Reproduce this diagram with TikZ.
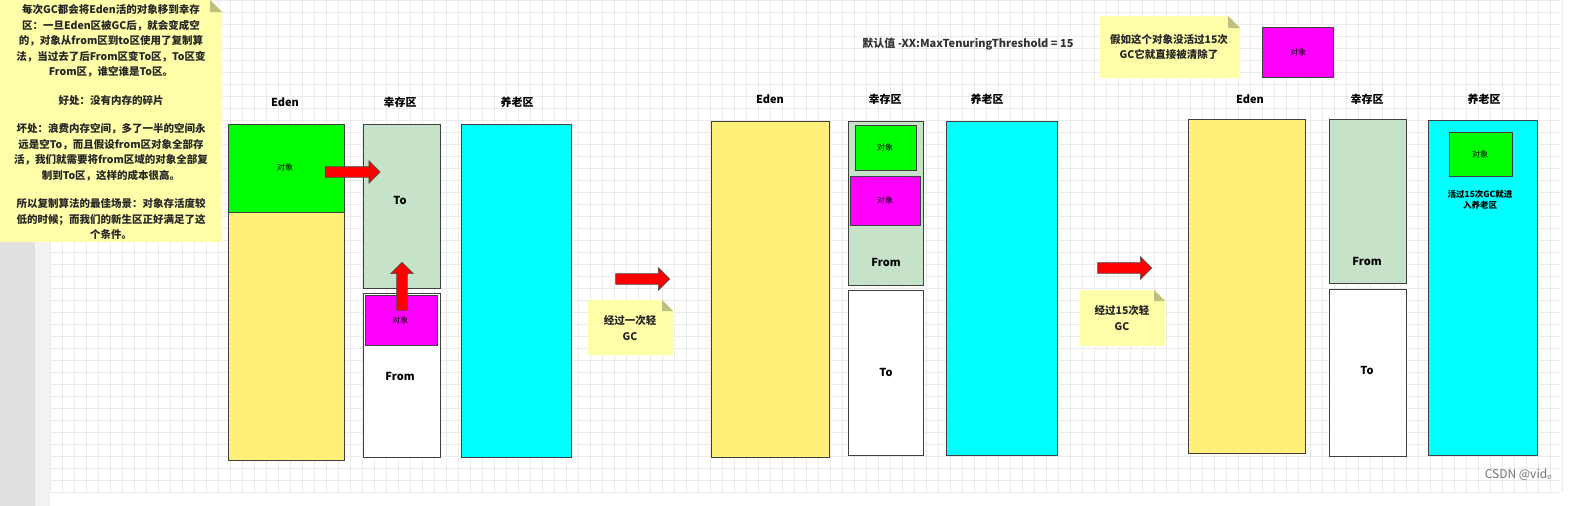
\documentclass[tikz,border=0pt]{standalone}
\usepackage{fontspec}
\setmainfont{Noto Sans CJK SC}
\usetikzlibrary{shapes.arrows}
\definecolor{notey}{HTML}{FFFFAA}
\definecolor{edeny}{HTML}{FFF07A}
\definecolor{surv}{HTML}{C6E2C8}
\definecolor{mag}{HTML}{FF00FF}
\definecolor{grn}{HTML}{00FF00}
\definecolor{cy}{HTML}{00FFFF}
\tikzset{
 x=1pt,y=-1pt,
 box/.style={draw=black!75,line width=0.9pt},
 hdr/.style={font=\fontsize{11}{13}\selectfont\bfseries},
 lbl/.style={font=\fontsize{11}{13}\selectfont\bfseries},
 obj/.style={font=\fontsize{8}{10}\selectfont},
 note/.style={fill=notey,draw=none},
 notetxt/.style={font=\fontsize{10.5}{15.5}\selectfont\bfseries,align=center,text=black!85},
 redarrow/.style={single arrow,fill=red,draw=black!70,line width=0.6pt,minimum height=54pt,inner xsep=0pt,inner ysep=5pt,single arrow head extend=6pt},
}
\begin{document}
\begin{tikzpicture}
\path[use as bounding box] (0,0) rectangle (1596,506);
\begin{scope}
\clip (0,0) rectangle (1596,506);
\fill[white] (0,0) rectangle (1596,506);
\fill[black!12] (0,0) rectangle (35,506);
\fill[black!5] (35,0) rectangle (50,506);
\foreach \i in {0,...,126} {\draw[black!8,line width=0.4pt] ({50+12*\i},0) -- ({50+12*\i},492);}
\foreach \j in {0,...,41} {\draw[black!8,line width=0.4pt] (50,{12*\j}) -- (1560,{12*\j});}
% note 1
\fill[note] (0,0) -- (210,0) -- (222,12) -- (222,242) -- (0,242) -- cycle;
\fill[black!25!notey] (210,0) -- (222,12) -- (210,12) -- cycle;
\node[notetxt] (n1) at (111,122) {每次GC都会将Eden活的对象移到幸存\\区：一旦Eden区被GC后，就会变成空\\的，对象从from区到to区使用了复制算\\法，当过去了后From区变To区，To区变\\From区，谁空谁是To区。\\[13pt]好处：没有内存的碎片\\[13pt]坏处：浪费内存空间，多了一半的空间永\\远是空To，而且假设from区对象全部存\\活，我们就需要将from区域的对象全部复\\制到To区，这样的成本很高。\\[13pt]所以复制算法的最佳场景：对象存活度较\\低的时候；而我们的新生区正好满足了这\\个条件。};
% panel 1
\node[hdr] (h1) at (285,102) {Eden};
\node[hdr] (h2) at (400,102) {幸存区};
\node[hdr] (h3) at (517,102) {养老区};
\draw[box,fill=edeny] (228,124) rectangle (344,460);
\draw[box,fill=grn] (228,124) rectangle (344,212);
\node[obj] (o1) at (285,167) {对象};
\draw[box,fill=surv] (363,124) rectangle (440,288);
\node[lbl] (t1) at (400,200) {To};
\draw[box,fill=white] (363,293) rectangle (440,457);
\draw[box,fill=mag] (365,295) rectangle (437,345);
\node[obj] (o2) at (400,320) {对象};
\node[lbl] (f1) at (400,376) {From};
\draw[box,fill=cy] (461,124) rectangle (571,457);
\node[redarrow,minimum height=55pt] (a1) at (350,172) {};
\node[redarrow,rotate=90,minimum height=48pt] (a2) at (402,289) {};
% arrow + note
\node[redarrow] (a3) at (640,279) {};
\fill[note] (588,300) -- (662,300) -- (673,311) -- (673,355) -- (588,355) -- cycle;
\fill[black!25!notey] (662,300) -- (673,311) -- (662,311) -- cycle;
\node[notetxt] (n2) at (630,328) {经过一次轻\\GC};
% panel 2
\node[font=\fontsize{11}{13}\selectfont\bfseries,text=black!80] (mt) at (968,44) {默认值 -XX:MaxTenuringThreshold = 15};
\node[hdr] (h4) at (770,99) {Eden};
\node[hdr] (h5) at (885,99) {幸存区};
\node[hdr] (h6) at (987,99) {养老区};
\draw[box,fill=edeny] (711,121) rectangle (829,457);
\draw[box,fill=surv] (848,121) rectangle (923,285);
\draw[box,fill=grn] (855,125) rectangle (916,170);
\node[obj] (o3) at (885,147) {对象};
\draw[box,fill=mag] (850,176) rectangle (920,225);
\node[obj] (o4) at (885,200) {对象};
\node[lbl] (f2) at (886,262) {From};
\draw[box,fill=white] (848,290) rectangle (923,455);
\node[lbl] (t2) at (886,372) {To};
\draw[box,fill=cy] (946,121) rectangle (1057,455);
\fill[note] (1100,16) -- (1228,16) -- (1240,28) -- (1240,78) -- (1100,78) -- cycle;
\fill[black!25!notey] (1228,16) -- (1240,28) -- (1228,28) -- cycle;
\node[notetxt] (n3) at (1169,47) {假如这个对象没活过15次\\GC它就直接被清除了};
\draw[box,fill=mag] (1262,27) rectangle (1333,77);
\node[obj] (o5) at (1298,52) {对象};
% arrow + note 2
\node[redarrow] (a4) at (1122,268) {};
\fill[note] (1080,290) -- (1154,290) -- (1165,301) -- (1165,346) -- (1080,346) -- cycle;
\fill[black!25!notey] (1154,290) -- (1165,301) -- (1154,301) -- cycle;
\node[notetxt] (n4) at (1122,318) {经过15次轻\\GC};
% panel 3
\node[hdr] (h7) at (1250,99) {Eden};
\node[hdr] (h8) at (1367,99) {幸存区};
\node[hdr] (h9) at (1484,99) {养老区};
\draw[box,fill=edeny] (1188,119) rectangle (1305,453);
\draw[box,fill=surv] (1329,119) rectangle (1406,283);
\node[lbl] (f3) at (1367,261) {From};
\draw[box,fill=white] (1329,289) rectangle (1406,456);
\node[lbl] (t3) at (1367,370) {To};
\draw[box,fill=cy] (1428,120) rectangle (1537,455);
\draw[box,fill=grn] (1449,132) rectangle (1512,176);
\node[obj] (o6) at (1480,154) {对象};
\node[font=\fontsize{8.5}{11}\selectfont\bfseries,align=center] (old) at (1480,200) {活过15次GC就进\\入养老区};
\node[font=\fontsize{12}{14}\selectfont,text=black!55] (csdn) at (1522,475) {CSDN @vid。};
\end{scope}
\end{tikzpicture}
\end{document}
